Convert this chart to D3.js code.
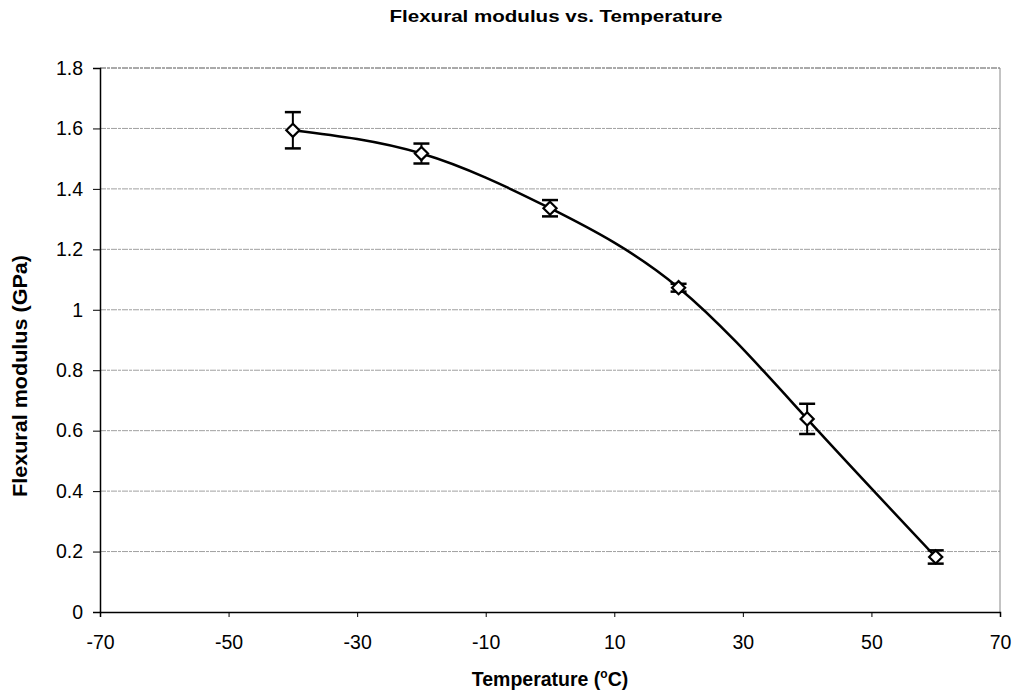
<!DOCTYPE html>
<html>
<head>
<meta charset="utf-8">
<script src="https://cdn.jsdelivr.net/npm/d3@7"></script>
<style>
  html, body { margin: 0; padding: 0; background: #fff; }
  svg { display: block; font-family: "Liberation Sans", Arial, sans-serif; }
</style>
</head>
<body>
<div id="chart"></div>
<script>
// Flexural modulus vs temperature
const temps   = [-40, -20, 0, 20, 40, 60];
const modulus = [1.594, 1.517, 1.336, 1.073, 0.639, 0.182];
const errs    = [0.06, 0.033, 0.027, 0.013, 0.05, 0.022];

const xTicks = [-70, -50, -30, -10, 10, 30, 50, 70];
const yTicks = [0, 0.2, 0.4, 0.6, 0.8, 1, 1.2, 1.4, 1.6, 1.8];

const W = 1017, H = 698;
const margin = { top: 68, right: 17, bottom: 86, left: 100 };
const width = W - margin.left - margin.right;
const height = H - margin.top - margin.bottom;

const svg = d3.select('#chart').append('svg')
  .attr('width', W).attr('height', H);

const g = svg.append('g').attr('transform', `translate(${margin.left},${margin.top})`);

const x = d3.scaleLinear().domain([-70, 70]).range([0, width]);
const y = d3.scaleLinear().domain([0, 1.8]).range([height, 0]);

// Gridlines
g.selectAll('.grid').data(yTicks.filter(v => v > 0)).enter().append('line')
  .attr('x1', 0).attr('x2', width)
  .attr('y1', d => y(d)).attr('y2', d => y(d))
  .attr('stroke', d => d === 1.8 ? '#555' : '#a0a0a0').attr('stroke-width', 1)
  .attr('stroke-dasharray', '6,1,3,1');

// Right border
g.append('line')
  .attr('x1', width).attr('x2', width).attr('y1', 0).attr('y2', height)
  .attr('stroke', '#888').attr('stroke-width', 1);

// Axes
const xAxis = d3.axisBottom(x).tickValues(xTicks).tickSize(5).tickPadding(18)
  .tickFormat(d => String(d));
const yAxis = d3.axisLeft(y).tickValues(yTicks).tickSize(7).tickPadding(10)
  .tickFormat(d => String(d));

const gx = g.append('g').attr('transform', `translate(0,${height})`).call(xAxis);
const gy = g.append('g').call(yAxis);
[gx, gy].forEach(a => {
  a.select('.domain').attr('stroke', '#000').attr('stroke-width', 1.5);
  a.selectAll('.tick line').attr('stroke', '#000');
  a.selectAll('.tick text').attr('fill', '#000')
    .attr('font-size', 19.5).attr('font-family', '"Liberation Sans", Arial, sans-serif');
});

// Smoothed curve through the points
const pts = temps.map((t, i) => ({ t, v: modulus[i], e: errs[i] }));
const line = d3.line()
  .x(d => x(d.t)).y(d => y(d.v))
  .curve(d3.curveNatural);
g.append('path').datum(pts).attr('d', line)
  .attr('fill', 'none').attr('stroke', '#000').attr('stroke-width', 2.5);

// Error bars
const cap = 8;
const eb = g.selectAll('.eb').data(pts).enter().append('g');
eb.append('line')
  .attr('x1', d => x(d.t)).attr('x2', d => x(d.t))
  .attr('y1', d => y(d.v + d.e)).attr('y2', d => y(d.v - d.e))
  .attr('stroke', '#000').attr('stroke-width', 2);
eb.append('line')
  .attr('x1', d => x(d.t) - cap).attr('x2', d => x(d.t) + cap)
  .attr('y1', d => y(d.v + d.e)).attr('y2', d => y(d.v + d.e))
  .attr('stroke', '#000').attr('stroke-width', 2.5);
eb.append('line')
  .attr('x1', d => x(d.t) - cap).attr('x2', d => x(d.t) + cap)
  .attr('y1', d => y(d.v - d.e)).attr('y2', d => y(d.v - d.e))
  .attr('stroke', '#000').attr('stroke-width', 2.5);

// Diamond markers
const diamond = d3.symbol().type(d3.symbolDiamond2).size(110);
g.selectAll('.pt').data(pts).enter().append('path')
  .attr('d', diamond)
  .attr('transform', d => `translate(${x(d.t)},${y(d.v)})`)
  .attr('fill', '#fff').attr('stroke', '#000').attr('stroke-width', 2.2);

// Title and axis labels
svg.append('text')
  .attr('x', 556).attr('y', 22)
  .attr('text-anchor', 'middle')
  .attr('font-size', 17).attr('font-weight', 'bold')
  .attr('textLength', 333).attr('lengthAdjust', 'spacingAndGlyphs')
  .text('Flexural modulus vs. Temperature');

const xl = svg.append('text')
  .attr('x', 550).attr('y', 686)
  .attr('text-anchor', 'middle')
  .attr('font-size', 19.5).attr('font-weight', 'bold');
xl.append('tspan').text('Temperature (');
xl.append('tspan').attr('dy', -8).attr('font-size', 12).text('o');
xl.append('tspan').attr('dy', 8).text('C)');

svg.append('text')
  .attr('transform', `translate(27,376) rotate(-90)`)
  .attr('text-anchor', 'middle')
  .attr('font-size', 19.5).attr('font-weight', 'bold')
  .attr('textLength', 242).attr('lengthAdjust', 'spacingAndGlyphs')
  .text('Flexural modulus (GPa)');
</script>
</body>
</html>
